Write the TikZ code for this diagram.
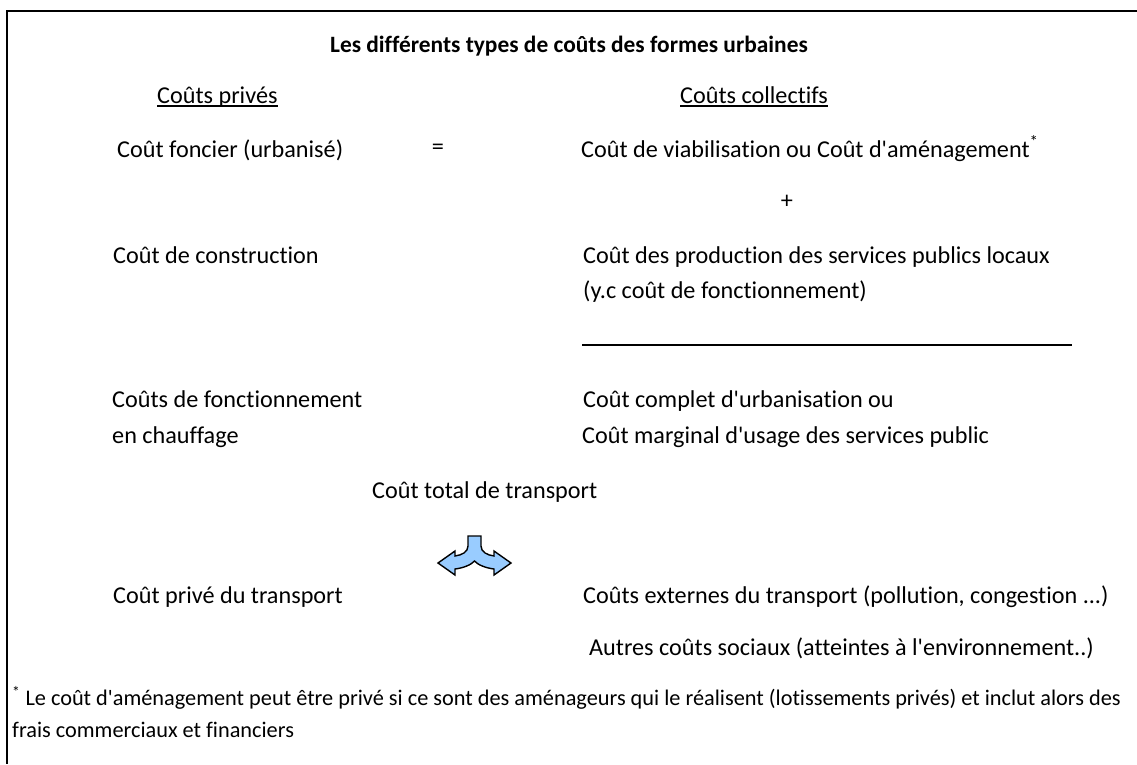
\documentclass[tikz,border=0pt]{standalone}
\usepackage{fontspec}
\setmainfont{Carlito}[Ligatures={TeXOff,NoCommon}]
\definecolor{arrowblue}{RGB}{153,204,255}
\begin{document}
\begin{tikzpicture}[x=1pt,y=-1pt,
  txt/.style={inner sep=0pt, anchor=base west, font=\fontsize{24.2}{29}\selectfont},
  sym/.style={inner sep=0pt, anchor=center, font=\fontsize{24.2}{29}\selectfont},
  foot/.style={inner sep=0pt, anchor=base west, font=\fontsize{22.3}{26}\selectfont},
  uline/.style={line width=1.4pt},
  frame/.style={line width=2pt}]
\useasboundingbox (0,0) rectangle (1137,764);
\fill[white] (0,0) rectangle (1137,764);
\draw[frame] (1137,11) -- (7,11) -- (7,764);

\node[inner sep=0pt, anchor=base, font=\fontsize{23.4}{28}\selectfont\bfseries] (title) at (569,52) {Les différents types de coûts des formes urbaines};

\node[txt] (hpriv) at (157,103) {Coûts privés};
\node[txt] (hcoll) at (680,103) {Coûts collectifs};
\draw[uline] ([yshift=-3pt]hpriv.base west) -- ([yshift=-3pt]hpriv.base east);
\draw[uline] ([yshift=-3pt]hcoll.base west) -- ([yshift=-3pt]hcoll.base east);

\node[txt] (foncier) at (117,157) {Coût foncier (urbanisé)};
\node[sym] (eq) at (438,149) {=};
\node[txt] (viab) at (581,157) {Coût de viabilisation ou Coût d'aménagement\textsuperscript{*}};
\node[sym] (plus) at (787,202) {+};

\node[txt] (constr) at (113,263) {Coût de construction};
\node[txt] (prod) at (583,263) {Coût des production des services publics locaux};
\node[txt] (prodb) at (583,298) {(y.c coût de fonctionnement)};

\coordinate (ruleL) at (582,345);
\coordinate (ruleR) at (1072,345);
\draw[line width=1.8pt] (ruleL) -- (ruleR);

\node[txt] (fonct) at (112,407) {Coûts de fonctionnement};
\node[txt] (fonctb) at (112,443) {en chauffage};
\node[txt] (complet) at (583,407) {Coût complet d'urbanisation ou};
\node[txt] (marg) at (582,443) {Coût marginal d'usage des services public};

\node[txt] (total) at (372,498) {Coût total de transport};

\draw[line width=1.4pt, fill=arrowblue, line join=miter]
  (468,536) -- (468,546) .. controls (468,552) and (462,555) .. (455,556)
  -- (455,551) -- (438,563) -- (455,575) -- (455,569)
  .. controls (463,568) and (471,565) .. (474.5,561)
  .. controls (478,565) and (486,568) .. (494,569)
  -- (494,575) -- (511,563) -- (494,551) -- (494,556)
  .. controls (487,555) and (481,552) .. (481,546) -- (481,536) -- cycle;

\node[txt] (prive) at (113,603) {Coût privé du transport};
\node[txt] (externe) at (583,603) {Coûts externes du transport (pollution, congestion ...)};
\node[txt] (autres) at (589,655) {Autres coûts sociaux (atteintes à l'environnement..)};

\node[foot] (fn1) at (12,705) {\textsuperscript{*} Le coût d'aménagement peut être privé si ce sont des aménageurs qui le réalisent (lotissements privés) et inclut alors des};
\node[foot] (fn2) at (12,737) {frais commerciaux et financiers};
\end{tikzpicture}
\end{document}
